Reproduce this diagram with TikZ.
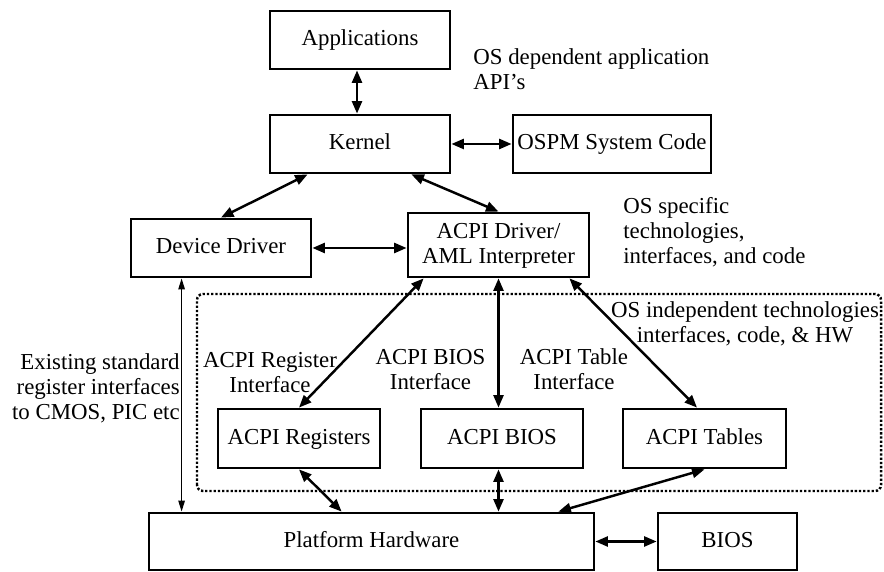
\documentclass[tikz,border=0pt]{standalone}
\usepackage{fontspec}
\setmainfont{Liberation Serif}
\usetikzlibrary{positioning,arrows.meta,calc}

\begin{document}
\begin{tikzpicture}[font=\fontsize{13}{14.2}\selectfont,
        box/.style={draw, line width=1.6pt, minimum width=3.6cm, minimum height=1.16cm, align=center, inner sep=2pt, text depth=0.22em},
        link/.style={<->, line width=1.4pt, >={Triangle[length=0.25cm,width=0.2cm]}},
        thinlink/.style={<->, line width=0.7pt, >={Triangle[length=0.22cm,width=0.13cm]}},
        note/.style={inner sep=0pt}]
    \useasboundingbox (0,0) rectangle (17.68,11.44);

    % OS side
    \node[box] (app) at (7.2,10.64) {Applications};
    \node[box] (kern) at (7.2,8.56) {Kernel};
    \node[box, minimum width=3.96cm] (ospm) at (12.24,8.56) {OSPM System Code};
    \node[box] (dd) at (4.42,6.48) {Device Driver};
    \node[box, minimum width=3.62cm, minimum height=1.28cm] (acpi) at (9.97,6.54) {ACPI Driver/\\AML Interpreter};

    % ACPI pieces
    \node[box, minimum width=3.24cm, minimum height=1.18cm] (regs) at (5.98,2.67) {ACPI Registers};
    \node[box, minimum width=3.24cm, minimum height=1.18cm] (abios) at (10.04,2.67) {ACPI BIOS};
    \node[box, minimum width=3.26cm, minimum height=1.18cm] (tables) at (14.09,2.67) {ACPI Tables};

    % Hardware
    \node[box, minimum width=8.9cm, minimum height=1.14cm] (phw) at (7.43,0.61) {Platform Hardware};
    \node[box, minimum width=2.78cm, minimum height=1.14cm] (bios) at (14.55,0.61) {BIOS};

    % OS independent region
    \draw[line width=1.4pt, dash pattern=on 1.3pt off 1.1pt, rounded corners=0.12cm] (3.94,1.62) rectangle (17.62,5.56);

    % Side notes
    \node[note, anchor=west, align=left] (apinote) at (9.46,10.05) {OS dependent application\\API’s};
    \node[note, anchor=west, align=left] (osnote) at (12.46,6.8) {OS specific\\technologies,\\interfaces, and code};
    \node[note, anchor=east, align=right] (stdnote) at (3.6,3.68) {Existing standard\\register interfaces\\to CMOS, PIC etc};
    \node[note, align=center] (regif) at (5.4,3.99) {ACPI Register\\Interface};
    \node[note, align=center] (biosif) at (8.61,4.05) {ACPI BIOS\\Interface};
    \node[note, align=center] (tabif) at (11.48,4.05) {ACPI Table\\Interface};
    \node[note, align=center] (indnote) at (14.9,4.96) {OS independent technologies\\interfaces, code, \& HW};

    % Connections
    \draw[link] ([xshift=-0.06cm]app.south) -- ([xshift=-0.06cm]kern.north);
    \draw[link] (kern.east) -- (ospm.west);
    \draw[link] ([xshift=0.78cm]kern.south west) -- (dd.north);
    \draw[link] ([xshift=-0.8cm]kern.south east) -- (acpi.north);
    \draw[link] (dd.east) -- (dd.east -| acpi.west);
    \draw[thinlink] ([xshift=1.04cm]dd.south west) -- ([xshift=1.04cm]dd.south west |- phw.north);
    \draw[link] ([xshift=0.34cm]acpi.south west) -- (regs.north);
    \draw[link] (acpi.south) -- (acpi.south |- abios.north);
    \draw[link] ([xshift=-0.42cm]acpi.south east) -- ([xshift=-0.15cm]tables.north);
    \draw[link] (regs.south) -- ([xshift=3.88cm]phw.north west);
    \draw[link] (acpi.south |- abios.south) -- (acpi.south |- phw.north);
    \draw[link] (tables.south) -- ([xshift=-0.74cm]phw.north east);
    \draw[link] (phw.east) -- (bios.west);
\end{tikzpicture}
\end{document}
